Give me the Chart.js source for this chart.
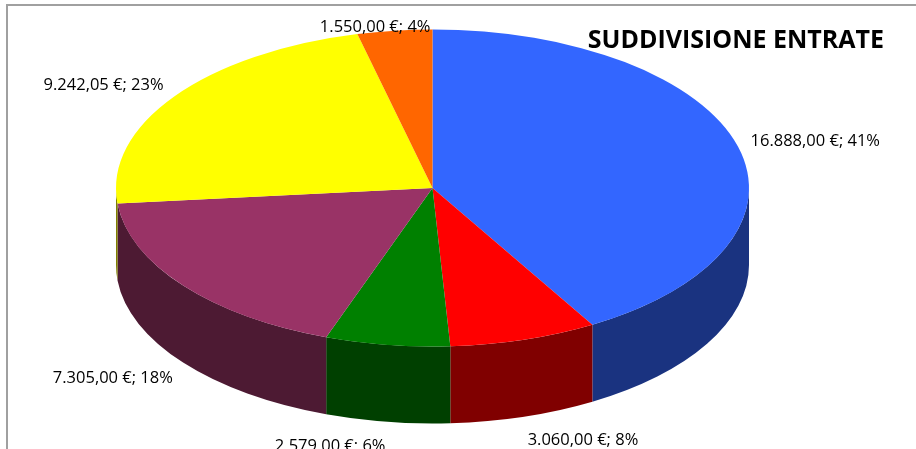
<!DOCTYPE html>
<html><head><meta charset="utf-8">
<script src="https://cdn.jsdelivr.net/npm/chart.js@4/dist/chart.umd.min.js"></script>
<style>
html,body{margin:0;padding:0;background:#fff;overflow:hidden}
#wrap{position:relative;width:916px;height:449px}
#frame{position:absolute;left:6px;top:4px;right:-10px;bottom:-10px;border-top:2px solid #a0a0a0;border-left:2px solid #a0a0a0;pointer-events:none}
canvas{position:absolute;left:0;top:0}
</style></head><body>
<div id="wrap"><canvas id="c" width="916" height="449" style="width:916px;height:449px"></canvas><div id="frame"></div></div>
<script>
const chartTitle = 'SUDDIVISIONE ENTRATE';
const categories = ['Voce 1', 'Voce 2', 'Voce 3', 'Voce 4', 'Voce 5', 'Voce 6'];
const values = [16888.00, 3060.00, 2579.00, 7305.00, 9242.05, 1550.00];
const percentLabels = ['41%', '8%', '6%', '18%', '23%', '4%'];
const topColors = ['#3366FF', '#FF0000', '#008000', '#993366', '#FFFF00', '#FF6600'];
const sideColors = ['#1A3380', '#800000', '#004000', '#4D1A33', '#808000', '#803300'];

function fmtEuro(v){
  const parts = v.toFixed(2).split('.');
  const intPart = parts[0].replace(/\B(?=(\d{3})+(?!\d))/g, '.');
  return intPart + ',' + parts[1] + ' €';
}

const pie3d = {
  id: 'pie3d',
  beforeDatasetsDraw(chart, args, opts){
    const meta = chart.getDatasetMeta(0);
    const ctx = chart.ctx;
    const a = chart.chartArea;
    const el0 = meta.data[0];
    const R = el0.outerRadius, cx = el0.x, cy = el0.y;
    const sx = a.width / a.height;
    const rx = R * sx, ry = R;
    const depth = ry * opts.depthRatio;
    ctx.save();
    meta.data.forEach((el, i) => {
      const s = Math.max(el.startAngle, 0), e = Math.min(el.endAngle, Math.PI);
      if (e <= s) return;
      ctx.beginPath();
      ctx.ellipse(cx, cy, rx, ry, 0, s, e);
      ctx.ellipse(cx, cy + depth, rx, ry, 0, e, s, true);
      ctx.closePath();
      ctx.fillStyle = sideColors[i];
      ctx.fill();
    });
    ctx.restore();
    ctx.save();
    ctx.translate(cx, cy); ctx.scale(sx, 1); ctx.translate(-cx, -cy);
  },
  afterDatasetsDraw(chart, args, opts){
    const ctx = chart.ctx;
    ctx.restore();
    const meta = chart.getDatasetMeta(0);
    const a = chart.chartArea;
    const el0 = meta.data[0];
    const R = el0.outerRadius, cx = el0.x, cy = el0.y;
    const rx = R * a.width / a.height, ry = R;
    const depth = ry * opts.depthRatio;
    ctx.save();
    ctx.font = '16.5px "Open Sans"';
    ctx.fillStyle = '#000';
    ctx.textBaseline = 'middle';
    meta.data.forEach((el, i) => {
      const m = (el.startAngle + el.endAngle) / 2;
      const c = Math.cos(m), s = Math.sin(m);
      let x = cx + (rx + opts.labelGapX) * c;
      let y = s > 0
        ? cy + (ry + opts.labelGapYLow) * s + depth
        : cy + (ry + opts.labelGapY) * s;
      const align = c >= 0 ? 'left' : 'right';
      if (y < opts.labelMinY) {
        y = opts.labelMinY;
        x = cx + rx * Math.cos(c >= 0 ? el.startAngle : el.endAngle) - 2;
      }
      ctx.textAlign = align;
      ctx.fillText(fmtEuro(values[i]) + '; ' + percentLabels[i], x, y);
    });
    ctx.restore();
  },
  afterDraw(chart){
    const ctx = chart.ctx;
    ctx.save();
    ctx.font = 'bold 25px "Open Sans"';
    ctx.fillStyle = '#000';
    ctx.textAlign = 'right';
    ctx.textBaseline = 'alphabetic';
    ctx.fillText(chartTitle, chart.width - 32, 48);
    ctx.restore();
  }
};

new Chart(document.getElementById('c'), {
  type: 'pie',
  data: {
    labels: categories,
    datasets: [{
      data: values,
      backgroundColor: topColors,
      borderWidth: 0,
      hoverOffset: 0,
      offset: 0,
      clip: false
    }]
  },
  options: {
    responsive: false,
    animation: false,
    devicePixelRatio: 1,
    events: [],
    rotation: 0,
    layout: { padding: { left: 116, right: 167, top: 29.5, bottom: 102.5 } },
    plugins: {
      legend: { display: false },
      tooltip: { enabled: false },
      title: { display: false },
      pie3d: { depthRatio: 0.486, labelGapX: 13, labelGapY: 20, labelGapYLow: 25, labelMinY: 27 }
    }
  },
  plugins: [pie3d]
});
</script>
</body></html>
